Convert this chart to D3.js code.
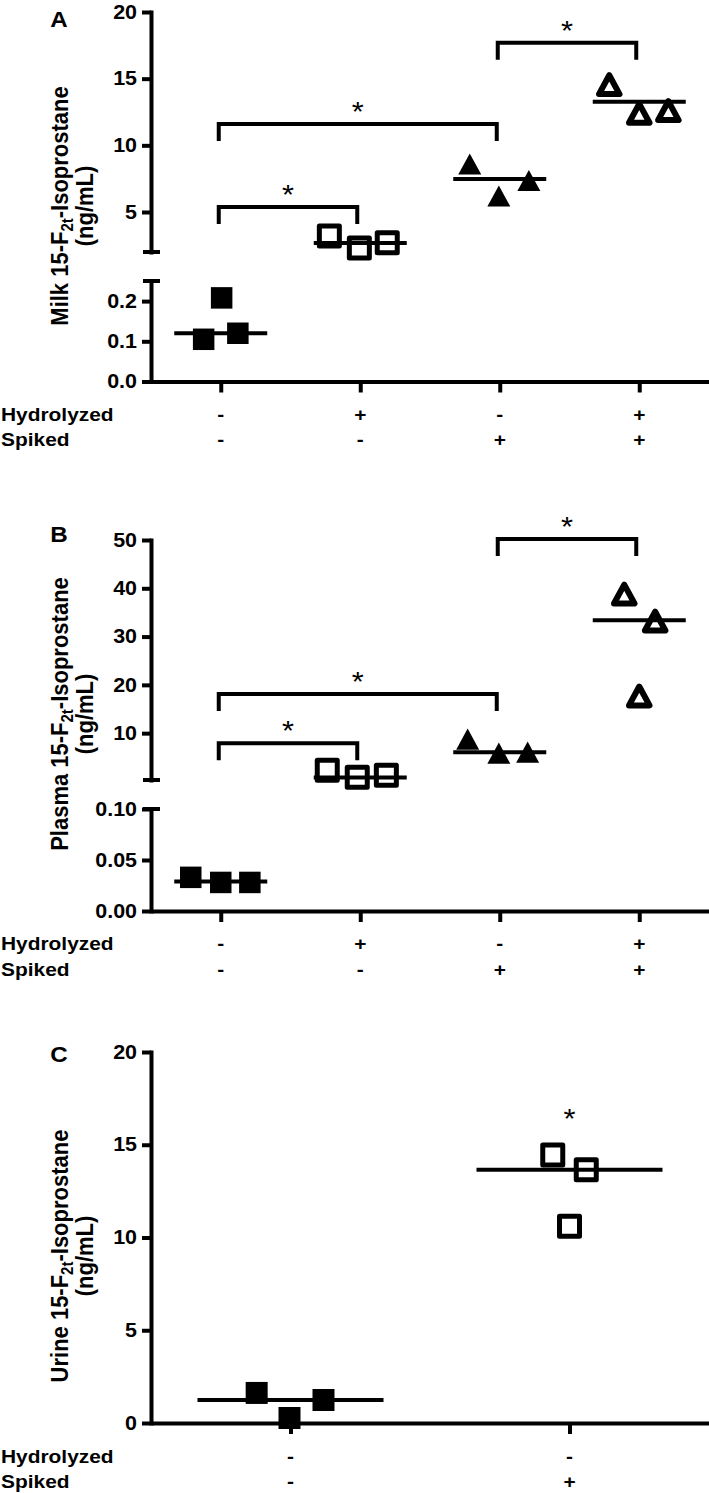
<!DOCTYPE html>
<html>
<head>
<meta charset="utf-8">
<script src="https://cdn.jsdelivr.net/npm/d3@7"></script>
<style>
  body { margin: 0; background: #fff; }
  svg { display: block; }
</style>
</head>
<body>
<div class="chart"></div>
<script>
// values (ng/mL)
const groupsAB = ["ctrl", "hyd", "spk", "hydSpk"]
const groupsC = ["ctrl", "spk"]
const hydrolyzedAB = ["-", "+", "-", "+"]
const spikedAB = ["-", "-", "+", "+"]
const hydrolyzedC = ["-", "-"]
const spikedC = ["-", "+"]

const milk = [[0.105, 0.208, 0.12], [3.2, 2.3, 2.7], [8.6, 6.2, 7.36], [14.55, 12.4, 12.6]]
const milkCenter = [0.12, 2.67, 7.47, 13.27]
const milkBrackets = [[0, 1, 5.37], [0, 2, 11.6], [2, 3, 17.7]]   // from, to, height
const milkTicksLow = [0, 0.1, 0.2]
const milkTicksHigh = [5, 10, 15, 20]

const plasma = [[0.033, 0.028, 0.028], [2.33, 0.88, 1.3], [8.76, 5.85, 6.06], [38.8, 33.2, 17.7]]
const plasmaCenter = [0.029, 0.8, 6.06, 33.4]
const plasmaBrackets = [[0, 1, 7.9], [0, 2, 18.1], [2, 3, 50.2]]
const plasmaTicksLow = [0, 0.05, 0.1]
const plasmaTicksHigh = [10, 20, 30, 40, 50]

const urine = [[1.62, 0.27, 1.24], [14.45, 13.65, 10.6]]
const urineCenter = [1.24, 13.65]
const urineStars = [[1, 16.7]]
const urineTicks = [0, 5, 10, 15, 20]

// layout only below
const W = 709, H = 1493
const FONT = "'Liberation Sans', Arial, sans-serif"
const SX = 1.1   // the figure is a bit stretched sideways
const LW = 4

const svg = d3.select(".chart").append("svg")
  .attr("width", W).attr("height", H)
  .style("background", "#fff")

// marker shapes, size = side length
const square = { draw(ctx, s) { ctx.rect(-s / 2, -s / 2, s, s) } }
const triangle = {
  draw(ctx, s) {
    const h = s * 0.92
    ctx.moveTo(0, -h / 2); ctx.lineTo(s / 2, h / 2); ctx.lineTo(-s / 2, h / 2); ctx.closePath()
  }
}
const markers = {
  sqFill: { type: square, size: 21.5, fill: "#000", sw: 0 },
  sqOpen: { type: square, size: 20, fill: "none", sw: 5 },
  triFill: { type: triangle, size: 23, fill: "#000", sw: 0 },
  triOpen: { type: triangle, size: 20.5, fill: "none", sw: 6 }
}

function stretchText(g, x, y, str, anchor, size, weight) {
  return g.append("g")
    .attr("transform", `translate(${x},${y}) scale(${SX},1)`)
    .append("text")
    .attr("text-anchor", anchor)
    .style("font-family", FONT)
    .style("font-size", size + "px")
    .style("font-weight", weight || "bold")
    .text(str)
}

function drawPanel(p) {
  const g = svg.append("g")
  const x = d3.scalePoint().domain(p.groups).range([p.axisX, W]).padding(0.5)
  const step = x.step()
  const segs = p.segments.map(s => ({ ...s, scale: d3.scaleLinear().domain(s.domain).range(s.range) }))
  const y = v => (segs.length > 1 && v > segs[0].domain[1] ? segs[1] : segs[0]).scale(v)

  // y axis segments
  segs.forEach(s => {
    const ax = g.append("g")
      .attr("transform", `translate(${p.axisX},0)`)
      .call(d3.axisLeft(s.scale).tickValues(s.ticks).tickSize(9).tickSizeOuter(0)
        .tickFormat(d3.format(s.fmt)))
    ax.attr("font-family", null).attr("font-size", null)
    ax.selectAll("path,line").attr("stroke-width", LW)
    ax.select(".domain").attr("stroke-linecap", "square")
    ax.selectAll("text")
      .attr("x", -14 / SX)
      .attr("transform", `scale(${SX},1)`)
      .style("font-family", FONT).style("font-size", "19.5px").style("font-weight", "bold")
  })
  // break caps
  if (segs.length > 1) {
    [segs[0].range[1], segs[1].range[0]].forEach(cy => {
      g.append("line")
        .attr("x1", p.axisX - 8).attr("x2", p.axisX + 9)
        .attr("y1", cy).attr("y2", cy)
        .attr("stroke", "#000").attr("stroke-width", LW)
    })
  }

  // x axis
  const xa = g.append("g")
    .attr("transform", `translate(0,${p.axisY})`)
    .call(d3.axisBottom(x).tickSize(11).tickSizeOuter(0).tickFormat(""))
  xa.selectAll("path,line").attr("stroke-width", LW)

  // condition rows
  stretchText(g, 1, p.rowY[0], "Hydrolyzed", "start", 19)
  stretchText(g, 1, p.rowY[1], "Spiked", "start", 19)
  p.groups.forEach((grp, i) => {
    stretchText(g, x(grp), p.rowY[0], p.hyd[i], "middle", 19)
    stretchText(g, x(grp), p.rowY[1], p.spk[i], "middle", 19)
  })

  // panel letter
  stretchText(g, 59, p.letterY, p.letter, "middle", 22)

  // y title
  const lab = g.append("g")
    .attr("transform", `translate(0,${p.titleY}) scale(${SX},1) rotate(-90)`)
    .append("text")
    .attr("text-anchor", "middle")
    .style("font-family", FONT).style("font-size", "22px").style("font-weight", "bold")
  const t1 = lab.append("tspan").attr("x", 0).attr("y", 68 / SX)
  t1.append("tspan").text(p.title + " 15-F")
  t1.append("tspan").attr("dy", 5).style("font-size", "15px").text("2t")
  t1.append("tspan").attr("dy", -5).text("-Isoprostane")
  lab.append("tspan").attr("x", 0).attr("y", 93 / SX).text("(ng/mL)")

  // points
  p.groups.forEach((grp, i) => {
    const m = markers[p.markers[i]]
    const sym = d3.symbol().type(m.type).size(p.markerSize ? p.markerSize[i] : m.size)
    g.selectAll(null)
      .data(p.values[i].map((v, j) => ({ v, slot: p.slots[i][j] })))
      .enter().append("path")
      .attr("d", sym)
      .attr("transform", d => `translate(${x(grp) + d.slot * p.slotW},${y(d.v)})`)
      .attr("fill", m.fill)
      .attr("stroke", m.sw ? "#000" : "none")
      .attr("stroke-width", m.sw)
      .attr("stroke-linejoin", "round")
  })

  // center lines
  g.selectAll(null).data(p.center).enter().append("line")
    .attr("x1", (d, i) => x(p.groups[i]) - step / 3)
    .attr("x2", (d, i) => x(p.groups[i]) + step / 3)
    .attr("y1", d => y(d)).attr("y2", d => y(d))
    .attr("stroke", "#000").attr("stroke-width", LW)

  // brackets + stars
  const line = d3.line()
  ;(p.brackets || []).forEach(([a, b, h]) => {
    const x1 = x(p.groups[a]) - 2, x2 = x(p.groups[b]) - 3, yt = y(h)
    g.append("path")
      .attr("d", line([[x1, yt + 17], [x1, yt], [x2, yt], [x2, yt + 17]]))
      .attr("fill", "none").attr("stroke", "#000").attr("stroke-width", LW)
    stretchText(g, (x1 + x2) / 2, yt - 3, "*", "middle", 28, "normal")
  })
  ;(p.stars || []).forEach(([a, h]) => {
    stretchText(g, x(p.groups[a]), y(h) + 15, "*", "middle", 28, "normal")
  })
}

drawPanel({
  letter: "A", letterY: 27, title: "Milk", titleY: 206,
  groups: groupsAB, hyd: hydrolyzedAB, spk: spikedAB,
  values: milk, center: milkCenter, brackets: milkBrackets,
  markers: ["sqFill", "sqOpen", "triFill", "triOpen"],
  slots: [[-0.57, 0.03, 0.57], [-1.03, -0.03, 0.9], [-1, -0.03, 0.97], [-1, 0, 0.97]], slotW: 30,
  axisX: 151, axisY: 381.5, rowY: [421, 446],
  segments: [
    { domain: [0, 0.25], range: [381.5, 281], ticks: milkTicksLow, fmt: ".1f" },
    { domain: [2, 20], range: [252, 12], ticks: milkTicksHigh, fmt: "d" }
  ]
})

drawPanel({
  letter: "B", letterY: 542, title: "Plasma", titleY: 714,
  groups: groupsAB, hyd: hydrolyzedAB, spk: spikedAB,
  values: plasma, center: plasmaCenter, brackets: plasmaBrackets,
  markers: ["sqFill", "sqOpen", "triFill", "triOpen"],
  slots: [[-1, 0, 0.97], [-1.1, -0.1, 0.87], [-1.07, -0.03, 0.93], [-0.5, 0.53, 0]], slotW: 30,
  axisX: 151, axisY: 911, rowY: [950, 976],
  segments: [
    { domain: [0, 0.1], range: [911, 809], ticks: plasmaTicksLow, fmt: ".2f" },
    { domain: [0.3, 50], range: [780, 540], ticks: plasmaTicksHigh, fmt: "d" }
  ]
})

drawPanel({
  letter: "C", letterY: 1062, title: "Urine", titleY: 1256,
  groups: groupsC, hyd: hydrolyzedC, spk: spikedC,
  values: urine, center: urineCenter, stars: urineStars,
  markers: ["sqFill", "sqOpen"], markerSize: [22, 20],
  slots: [[-1.01, -0.03, 0.985], [-0.5, 0.5, 0]], slotW: 33.5,
  axisX: 151, axisY: 1423, rowY: [1463, 1488],
  segments: [
    { domain: [0, 20], range: [1423, 1052], ticks: urineTicks, fmt: "d" }
  ]
})
</script>
</body>
</html>
